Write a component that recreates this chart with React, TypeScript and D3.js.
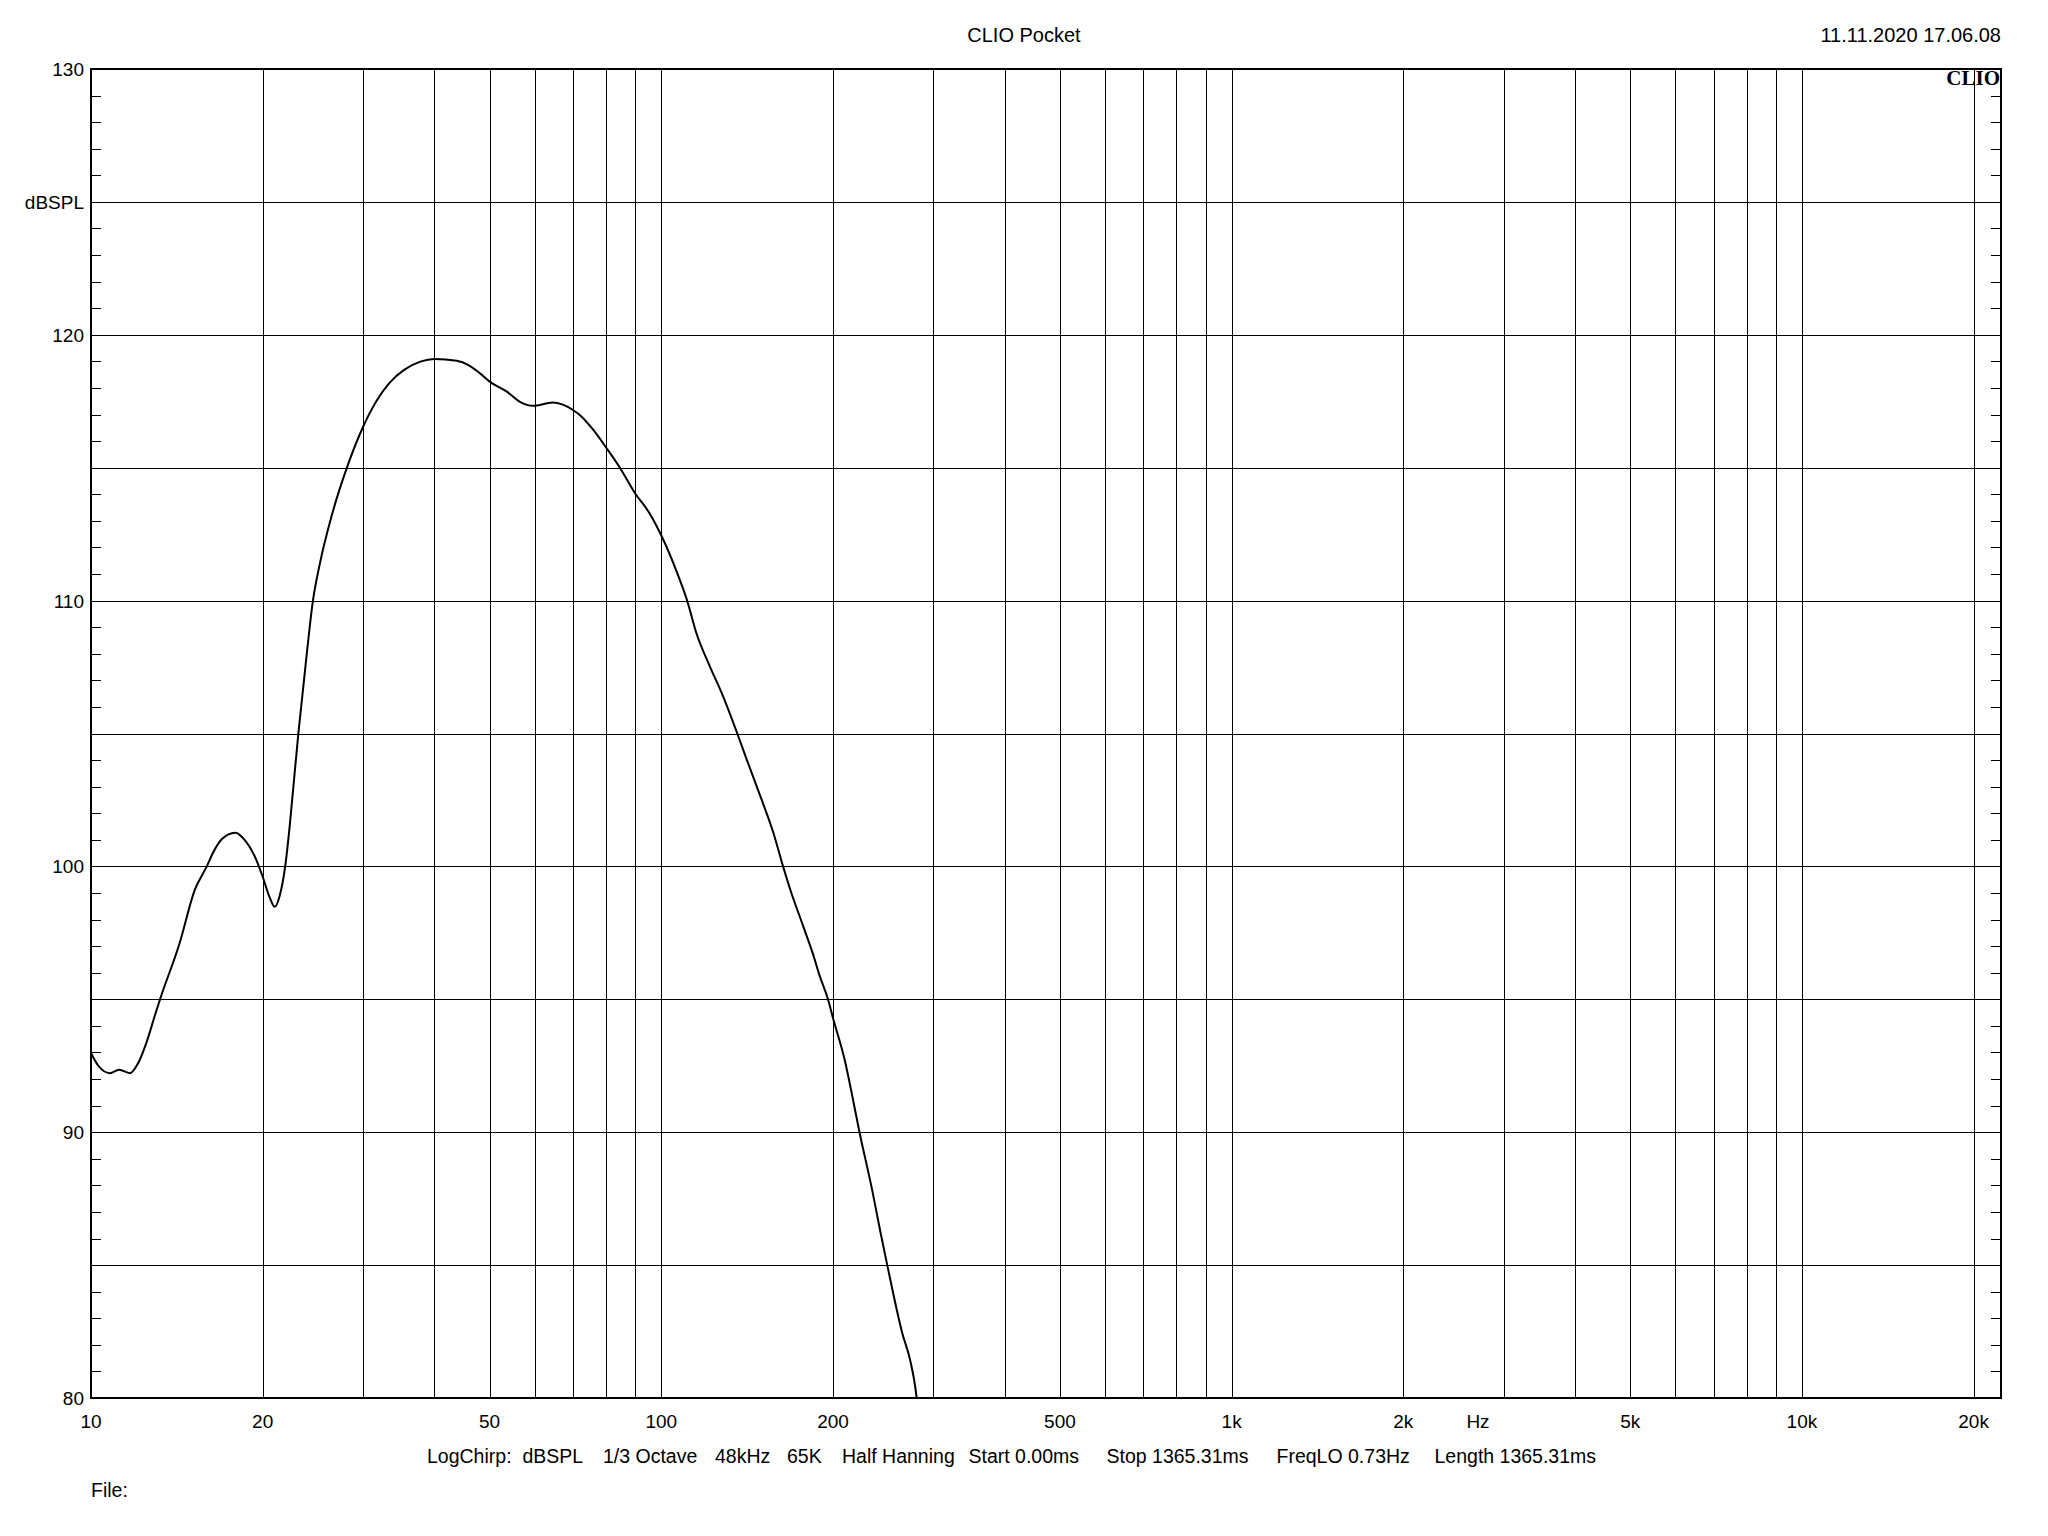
import React from "react";
import * as d3 from "d3";

// Frequency response (Hz, dBSPL)
const freqs = [
  10.0, 10.3, 10.8, 11.2, 11.7, 12.1, 12.5, 12.95, 13.2, 14.3, 15.2, 15.95, 16.4, 16.95,
  17.9, 18.7, 19.5, 20.0, 20.5, 21.0, 21.4, 21.9, 22.3, 22.7, 23.1, 23.8, 24.5, 25.2,
  26.4, 28.1, 30.0, 31.6, 33.4, 35.4, 37.8, 40.0, 43.8, 45.9, 48.1, 50.0, 53.6, 56.5,
  59.6, 64.5, 70.0, 72.5, 76.0, 80.2, 84.6, 90.0, 95.4, 100.2, 106.4, 111.0, 115.0,
  121.8, 127.7, 135.9, 141.3, 150.0, 157.3, 163.5, 168.4, 177.2, 184.5, 189.5, 196.0,
  200.1, 210.0, 215.8, 222.6, 234.3, 242.4, 249.0, 264.5, 273.5, 279.3, 280.4,
];
const dbs = [
  92.98, 92.5, 92.22, 92.35, 92.22, 92.6, 93.35, 94.41, 94.97, 97.11, 99.11, 99.99, 100.55,
  101.02, 101.27, 100.93, 100.24, 99.61, 98.92, 98.48, 98.86, 99.99, 101.5, 103.27, 105.0,
  107.64, 110.0, 111.4, 113.16, 115.0, 116.54, 117.48, 118.2, 118.68, 118.99, 119.09,
  119.02, 118.86, 118.55, 118.24, 117.86, 117.48, 117.33, 117.45, 117.17, 116.92, 116.42,
  115.73, 115.0, 114.03, 113.28, 112.41, 111.09, 110.0, 108.83, 107.5, 106.51, 105.0,
  104.0, 102.5, 101.25, 100.0, 99.11, 97.77, 96.7, 95.89, 95.0, 94.28, 92.66, 91.45, 90.0,
  87.82, 86.21, 85.0, 82.45, 81.37, 80.3, 80.0,
];

const freqGrid = [
  20, 30, 40, 50, 60, 70, 80, 90, 100, 200, 300, 400, 500, 600, 700, 800, 900, 1000,
  2000, 3000, 4000, 5000, 6000, 7000, 8000, 9000, 10000, 20000,
];
const xTickValues = [10, 20, 50, 100, 200, 500, 1000, 2000, 5000, 10000, 20000];
const xTickLabels = ["10", "20", "50", "100", "200", "500", "1k", "2k", "5k", "10k", "20k"];
const yGrid = [85, 90, 95, 100, 105, 110, 115, 120, 125];
const yTickValues = [130, 125, 120, 110, 100, 90, 80];
const yTickLabels = ["130", "dBSPL", "120", "110", "100", "90", "80"];
const infoItems = [
  "LogChirp:", "dBSPL", "1/3 Octave", "48kHz", "65K", "Half Hanning", "Start 0.00ms",
  "Stop 1365.31ms", "FreqLO 0.73Hz", "Length 1365.31ms",
];
const infoX = [427, 522.5, 603, 715, 787, 842, 968.5, 1106.5, 1276.5, 1434.5];

const W = 2048;
const H = 1536;
const L = 91;
const R = 2001;
const T = 69;
const B = 1398;
const FONT = "'Liberation Sans', Arial, sans-serif";

export default function App() {
  const x = d3.scaleLog().domain([10, 22340]).range([L, R]);
  const y = d3.scaleLinear().domain([80, 130]).range([B, T]);
  const pts = freqs.map((f, i) => [f, dbs[i]] as [number, number]);
  const line = d3
    .line<[number, number]>()
    .x((d) => x(d[0]))
    .y((d) => y(d[1]))
    .curve(d3.curveMonotoneX);
  const minor = d3.range(81, 130).filter((v) => v % 5 !== 0);

  return (
    <svg
      width={W}
      height={H}
      style={{ position: "absolute", left: 0, top: 0, background: "#fff" }}
      fontFamily={FONT}
    >
      <rect x={0} y={0} width={W} height={H} fill="#fff" />
      <defs>
        <clipPath id="plot">
          <rect x={L} y={T} width={R - L} height={B - T} />
        </clipPath>
      </defs>
      {yGrid.map((v) => (
        <line key={"yg" + v} x1={L} x2={R} y1={Math.round(y(v)) + 0.5} y2={Math.round(y(v)) + 0.5} stroke="#000" strokeWidth={1} />
      ))}
      {freqGrid.map((f) => (
        <line key={"xg" + f} x1={Math.round(x(f)) + 0.5} x2={Math.round(x(f)) + 0.5} y1={T} y2={B} stroke="#000" strokeWidth={1} />
      ))}
      {minor.map((v) => (
        <g key={"mt" + v}>
          <line x1={L} x2={L + 10} y1={Math.round(y(v)) + 0.5} y2={Math.round(y(v)) + 0.5} stroke="#000" strokeWidth={1} />
          <line x1={R - 10} x2={R} y1={Math.round(y(v)) + 0.5} y2={Math.round(y(v)) + 0.5} stroke="#000" strokeWidth={1} />
        </g>
      ))}
      <path d={line(pts) || ""} fill="none" stroke="#000" strokeWidth={2} clipPath="url(#plot)" strokeLinejoin="round" />
      <rect x={L} y={T} width={R - L} height={B - T} fill="none" stroke="#000" strokeWidth={2} />
      <text x={R - 1} y={85} textAnchor="end" fontFamily="'Liberation Serif', 'DejaVu Serif', serif" fontWeight="bold" fontSize={21}>
        CLIO
      </text>
      {yTickValues.map((v, i) => (
        <text key={"yl" + v} x={84} y={y(v) + 7} textAnchor="end" fontSize={19}>
          {yTickLabels[i]}
        </text>
      ))}
      {xTickValues.map((f, i) => (
        <text key={"xl" + f} x={x(f)} y={1428} textAnchor="middle" fontSize={19}>
          {xTickLabels[i]}
        </text>
      ))}
      <text x={1478} y={1428} textAnchor="middle" fontSize={19}>
        Hz
      </text>
      <text x={1024} y={42} textAnchor="middle" fontSize={20}>
        CLIO Pocket
      </text>
      <text x={2001} y={42} textAnchor="end" fontSize={20}>
        11.11.2020 17.06.08
      </text>
      {infoItems.map((s, i) => (
        <text key={"in" + i} x={infoX[i]} y={1463} fontSize={19.5}>
          {s}
        </text>
      ))}
      <text x={91} y={1497} fontSize={19.5}>
        File:
      </text>
    </svg>
  );
}
